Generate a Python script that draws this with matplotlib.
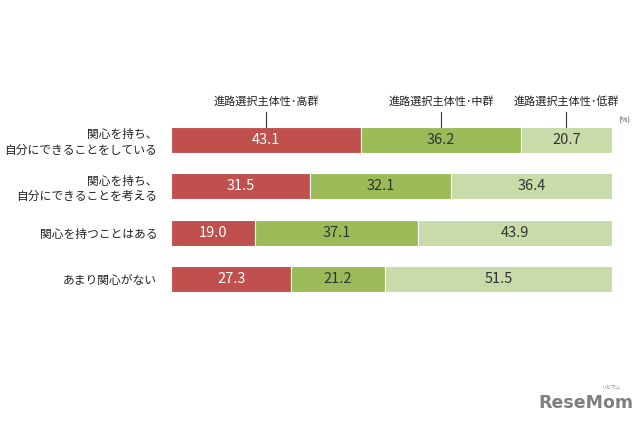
import matplotlib.pyplot as plt
import numpy as np

plt.rcParams['font.family'] = ['Noto Sans CJK JP', 'DejaVu Sans']

categories = ['関心を持ち、\n自分にできることをしている',
              '関心を持ち、\n自分にできることを考える',
              '関心を持つことはある',
              'あまり関心がない']
groups = ['進路選択主体性･高群', '進路選択主体性･中群', '進路選択主体性･低群']
high = [43.1, 31.5, 19.0, 27.3]
mid = [36.2, 32.1, 37.1, 21.2]
low = [20.7, 36.4, 43.9, 51.5]

colors = ['#C0504D', '#9BBB59', '#C9DBA8']
text_colors = ['white', '#333333', '#333333']

fig = plt.figure(figsize=(6.4, 4.26), dpi=100)
ax = fig.add_axes([171 / 640, 1 - 310 / 426, 441 / 640, 200 / 426])

y = np.arange(len(categories))
left = np.zeros(len(categories))
for vals, c, tc in zip([high, mid, low], colors, text_colors):
    vals = np.array(vals)
    ax.barh(y, vals, left=left, height=0.56, color=c, edgecolor='white', linewidth=0.8)
    for yi, l, v in zip(y, left, vals):
        ax.text(l + v / 2, yi, f'{v:.1f}', ha='center', va='center',
                color=tc, fontsize=10.5)
    left = left + vals

# group labels above the first bar
left0 = 0
for g, v in zip(groups, [high[0], mid[0], low[0]]):
    cx = left0 + v / 2
    ax.plot([cx, cx], [-0.28, -0.6], color='#333333', lw=0.8, clip_on=False)
    ax.text(cx, -0.72, g, ha='center', va='bottom', fontsize=8, color='#222222')
    left0 += v
ax.text(101.5, -0.42, '(%)', ha='left', va='center', fontsize=5.5, color='#444444')

ax.set_xlim(0, 100)
ax.set_ylim(3 + 31 / 46.5, -30 / 46.5)
ax.set_yticks(y)
ax.set_yticklabels(categories, fontsize=8.5, linespacing=1.2, color='#222222')
ax.tick_params(axis='y', length=0, pad=10)
ax.set_xticks([])
for s in ax.spines.values():
    s.set_visible(False)

fig.text(612 / 640, 1 - 388 / 426, 'リセマム', fontsize=3.5, color='#888888', ha='center')
fig.text(586 / 640, 1 - 403 / 426, 'ReseMom', fontsize=12.5, fontweight='bold',
         color='#7f7f7f', ha='center', va='center', family='DejaVu Sans')

fig.savefig('out.png', dpi=100)
